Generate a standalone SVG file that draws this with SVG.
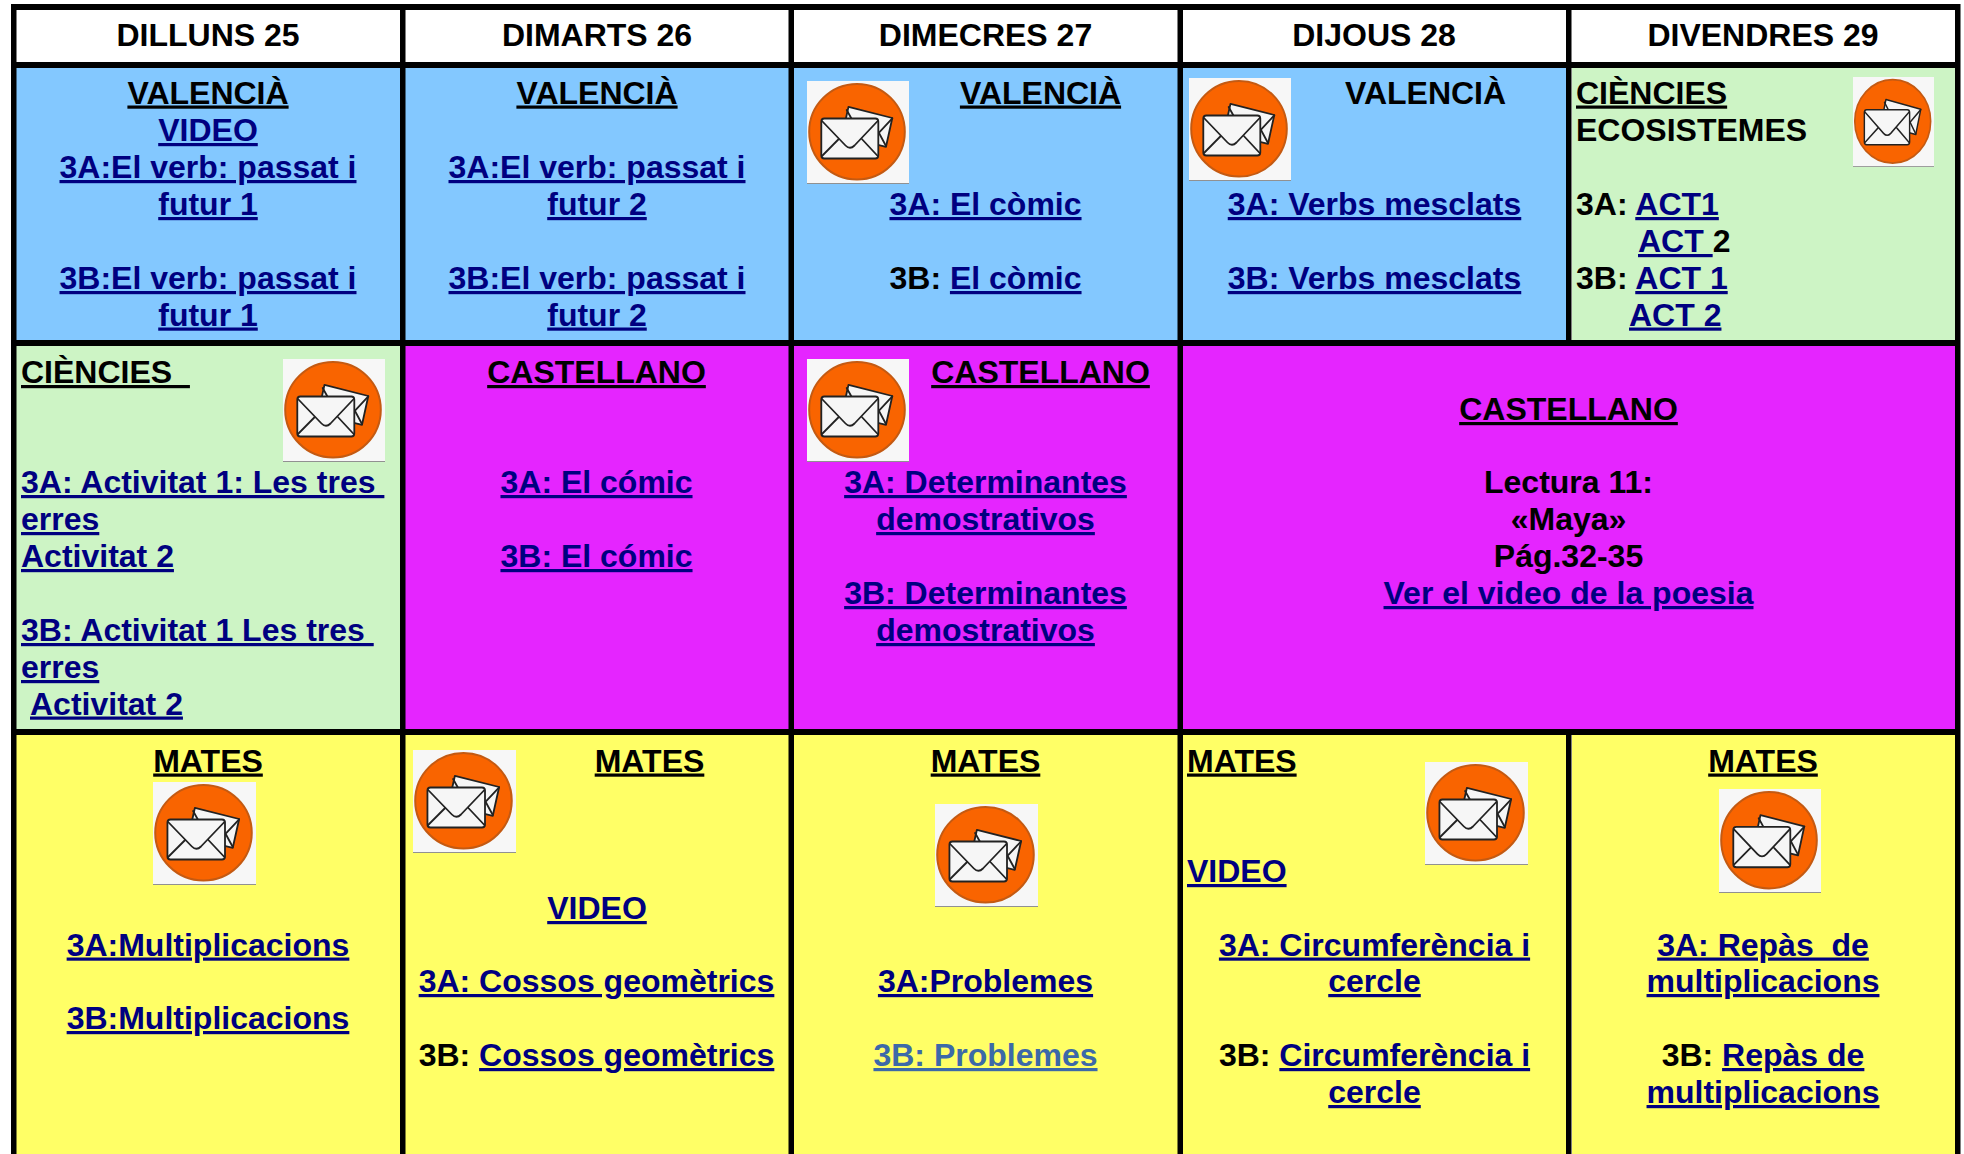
<svg xmlns="http://www.w3.org/2000/svg" width="1964" height="1154" viewBox="0 0 1964 1154">
<style>
text{font-family:"Liberation Sans",Arial,sans-serif;font-weight:bold;font-size:32px;fill:#000;white-space:pre}
.m{text-anchor:middle}
.u{text-decoration:underline}
.l{fill:#000080;text-decoration:underline}
.p{fill:#3c69a8;text-decoration:underline}
.blue{fill:#83c8ff}.green{fill:#cdf4c5}.pink{fill:#e525ff}.yellow{fill:#ffff66}.white{fill:#fff}
.bar{fill:#000}
</style>
<defs>
<symbol id="mail" viewBox="0 0 102 103" preserveAspectRatio="none">
<rect width="102" height="103" fill="#f7f7f7"/>
<rect y="102.2" width="102" height="0.8" fill="#777"/>
<circle cx="50" cy="50.7" r="47.8" fill="#f96400" stroke="#c45a12" stroke-width="2"/>
<g fill="#f6f6f6" stroke="#222" stroke-width="1.8" stroke-linejoin="round" stroke-linecap="round">
<path d="M41.5 25.8L85.3 37L79 65.8L35 55Z"/>
<path d="M39.7 29L44.7 38M85.3 37.3L71.3 52.3M72 52L79 65" fill="none"/>
<rect x="14.3" y="37.5" width="57" height="40" rx="3" ry="3"/>
<path d="M15 40L38.5 64.5Q43 69 47.5 64.5L70.7 40M15 75L31.3 58.5M70.7 75L55.3 58.5" fill="none"/>
</g>
</symbol>
</defs>
<rect width="1964" height="1154" fill="#fff"/>

<g id="head-dilluns"><rect class="white" x="16" y="10" width="385" height="53"/><text class="m" x="208" y="46">DILLUNS 25</text></g>
<g id="head-dimarts"><rect class="white" x="405" y="10" width="384" height="53"/><text class="m" x="597" y="46">DIMARTS 26</text></g>
<g id="head-dimecres"><rect class="white" x="794" y="10" width="384" height="53"/><text class="m" x="985.5" y="46">DIMECRES 27</text></g>
<g id="head-dijous"><rect class="white" x="1183" y="10" width="384" height="53"/><text class="m" x="1374" y="46">DIJOUS 28</text></g>
<g id="head-divendres"><rect class="white" x="1572" y="10" width="384" height="53"/><text class="m" x="1763" y="46">DIVENDRES 29</text></g>

<g id="r1-c1"><rect class="blue" x="16" y="67" width="385" height="274"/>
<text class="m u" x="208" y="103.5">VALENCIÀ</text>
<text class="m l" x="208" y="141">VIDEO</text>
<text class="m l" x="208" y="178">3A:El verb: passat i</text>
<text class="m l" x="208" y="215">futur 1</text>
<text class="m l" x="208" y="289">3B:El verb: passat i</text>
<text class="m l" x="208" y="325.5">futur 1</text></g>

<g id="r1-c2"><rect class="blue" x="405" y="67" width="384" height="274"/>
<text class="m u" x="597" y="103.5">VALENCIÀ</text>
<text class="m l" x="597" y="178">3A:El verb: passat i</text>
<text class="m l" x="597" y="215">futur 2</text>
<text class="m l" x="597" y="289">3B:El verb: passat i</text>
<text class="m l" x="597" y="325.5">futur 2</text></g>

<g id="r1-c3"><rect class="blue" x="794" y="67" width="384" height="274"/>
<use href="#mail" x="807" y="81" width="102" height="103"/>
<text class="m u" x="1040.5" y="103.5">VALENCIÀ</text>
<text class="m l" x="985.5" y="215">3A: El còmic</text>
<text class="m" x="985.5" y="289">3B: <tspan class="l">El còmic</tspan></text></g>

<g id="r1-c4"><rect class="blue" x="1183" y="67" width="384" height="274"/>
<use href="#mail" x="1189" y="78" width="102" height="103"/>
<text class="m" x="1425.5" y="103.5">VALENCIÀ</text>
<text class="m l" x="1374.5" y="215">3A: Verbs mesclats</text>
<text class="m l" x="1374.5" y="289">3B: Verbs mesclats</text></g>

<g id="r1-c5"><rect class="green" x="1572" y="67" width="384" height="274"/>
<use href="#mail" x="1853" y="77" width="81" height="90"/>
<text class="u" x="1576" y="103.5">CIÈNCIES</text>
<text x="1576" y="141">ECOSISTEMES</text>
<text x="1576" y="215">3A: <tspan class="l">ACT1</tspan></text>
<text x="1638" y="252"><tspan class="l">ACT </tspan>2</text>
<text x="1576" y="289">3B: <tspan class="l">ACT 1</tspan></text>
<text class="l" x="1629" y="325.5">ACT 2</text></g>

<g id="r2-c1"><rect class="green" x="16" y="345" width="385" height="385"/>
<use href="#mail" x="283" y="359" width="102" height="103"/>
<text class="u" x="21" y="383">CIÈNCIES  </text>
<text class="l" x="21" y="493">3A: Activitat 1: Les tres </text>
<text class="l" x="21" y="530">erres</text>
<text class="l" x="21" y="567">Activitat 2</text>
<text class="l" x="21" y="641">3B: Activitat 1 Les tres </text>
<text class="l" x="21" y="678">erres</text>
<text class="l" x="30" y="714.5">Activitat 2</text></g>

<g id="r2-c2"><rect class="pink" x="405" y="345" width="384" height="385"/>
<text class="m u" x="596.5" y="383">CASTELLANO</text>
<text class="m l" x="596.5" y="493">3A: El cómic</text>
<text class="m l" x="596.5" y="567">3B: El cómic</text></g>

<g id="r2-c3"><rect class="pink" x="794" y="345" width="384" height="385"/>
<use href="#mail" x="807" y="359" width="102" height="103"/>
<text class="m u" x="1040.5" y="383">CASTELLANO</text>
<text class="m l" x="985.5" y="493">3A: Determinantes</text>
<text class="m l" x="985.5" y="530">demostrativos</text>
<text class="m l" x="985.5" y="604">3B: Determinantes</text>
<text class="m l" x="985.5" y="641">demostrativos</text></g>

<g id="r2-c4"><rect class="pink" x="1183" y="345" width="773" height="385"/>
<text class="m u" x="1568.5" y="420">CASTELLANO</text>
<text class="m" x="1568.5" y="493">Lectura 11:</text>
<text class="m" x="1568.5" y="530">«Maya»</text>
<text class="m" x="1568.5" y="567">Pág.32-35</text>
<text class="m l" x="1568.5" y="604">Ver el video de la poesia</text></g>

<g id="r3-c1"><rect class="yellow" x="16" y="734" width="385" height="420"/>
<use href="#mail" x="153" y="782" width="103" height="103"/>
<text class="m u" x="208" y="771.5">MATES</text>
<text class="m l" x="208" y="955.5">3A:Multiplicacions</text>
<text class="m l" x="208" y="1029">3B:Multiplicacions</text></g>

<g id="r3-c2"><rect class="yellow" x="405" y="734" width="384" height="420"/>
<use href="#mail" x="413" y="750" width="103" height="103"/>
<text class="m u" x="649.5" y="771.5">MATES</text>
<text class="m l" x="597" y="919">VIDEO</text>
<text class="m l" x="596.5" y="992">3A: Cossos geomètrics</text>
<text class="m" x="596.5" y="1066">3B: <tspan class="l">Cossos geomètrics</tspan></text></g>

<g id="r3-c3"><rect class="yellow" x="794" y="734" width="384" height="420"/>
<use href="#mail" x="935" y="804" width="103" height="103"/>
<text class="m u" x="985.5" y="771.5">MATES</text>
<text class="m l" x="985.5" y="992">3A:Problemes</text>
<text class="m p" x="985.5" y="1066">3B: Problemes</text></g>

<g id="r3-c4"><rect class="yellow" x="1183" y="734" width="384" height="420"/>
<use href="#mail" x="1425" y="762" width="103" height="103"/>
<text class="u" x="1187" y="771.5">MATES</text>
<text class="l" x="1187" y="882">VIDEO</text>
<text class="m l" x="1374.5" y="955.5">3A: Circumferència i</text>
<text class="m l" x="1374.5" y="992">cercle</text>
<text class="m" x="1374.5" y="1066">3B: <tspan class="l">Circumferència i</tspan></text>
<text class="m l" x="1374.5" y="1103">cercle</text></g>

<g id="r3-c5"><rect class="yellow" x="1572" y="734" width="384" height="420"/>
<use href="#mail" x="1719" y="789" width="102" height="104"/>
<text class="m u" x="1763" y="771.5">MATES</text>
<text class="m l" x="1763" y="955.5">3A: Repàs  de</text>
<text class="m l" x="1763" y="992">multiplicacions</text>
<text class="m" x="1763" y="1066">3B: <tspan class="l">Repàs de</tspan></text>
<text class="m l" x="1763" y="1103">multiplicacions</text></g>

<g id="grid">
<rect class="bar" x="11" y="4" width="1949" height="6"/>
<rect class="bar" x="11" y="62" width="1949" height="6"/>
<rect class="bar" x="11" y="340" width="1949" height="6"/>
<rect class="bar" x="11" y="729" width="1949" height="6"/>
<rect class="bar" x="11" y="4" width="5.5" height="1150"/>
<rect class="bar" x="400" y="4" width="5.5" height="1150"/>
<rect class="bar" x="788.5" y="4" width="5.5" height="1150"/>
<rect class="bar" x="1177.5" y="4" width="5.5" height="1150"/>
<rect class="bar" x="1566" y="4" width="5.5" height="342"/>
<rect class="bar" x="1566" y="729" width="5.5" height="425"/>
<rect class="bar" x="1955" y="4" width="5.5" height="1150"/>
</g>
</svg>
